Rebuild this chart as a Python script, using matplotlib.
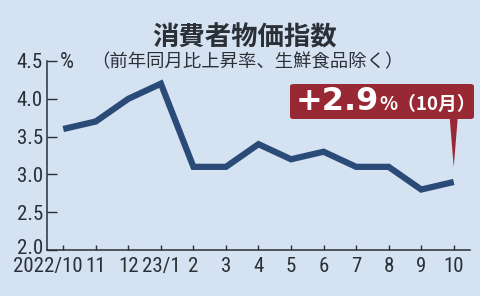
import numpy as np
import matplotlib
matplotlib.use("Agg")
import matplotlib.pyplot as plt
from matplotlib.patches import FancyBboxPatch, Polygon
from matplotlib.transforms import ScaledTranslation

months = ["2022/10", "11", "12", "23/1", "2", "3", "4", "5", "6", "7", "8", "9", "10"]
cpi = [3.6, 3.7, 4.0, 4.2, 3.1, 3.1, 3.4, 3.2, 3.3, 3.1, 3.1, 2.8, 2.9]
yticks = [2.0, 2.5, 3.0, 3.5, 4.0, 4.5]

BG = "#d5e2f2"
LINE = "#2a4b78"
RED = "#982833"
INK = "#2b2f36"
NUM_FONT = ["Roboto Condensed", "DejaVu Sans Condensed", "Liberation Sans Narrow", "Liberation Sans"]
JP_FONT = ["Noto Sans CJK JP", "DejaVu Sans"]

W, H = 481, 296
fig = plt.figure(figsize=(W / 100, H / 100), dpi=100, facecolor=BG)
# axes box in pixels: left 47, right 470, top 61, bottom 250
ax = fig.add_axes([47 / W, 1 - 250 / H, (470 - 47) / W, (250 - 61) / H])
ax.set_facecolor(BG)

x = np.arange(len(months))
ax.plot(x, cpi, color=LINE, lw=4.5, solid_joinstyle="miter", solid_capstyle="butt",
        clip_on=False, zorder=3)

ax.set_xlim(-0.5, len(months) - 0.5)
ax.set_ylim(yticks[0], yticks[-1])
ax.set_xticks(x)
ax.set_xticklabels(months)
ax.set_yticks(yticks)
ax.set_yticklabels([f"{v:.1f}" for v in yticks])

for s in ("top", "right"):
    ax.spines[s].set_visible(False)
for s in ("left", "bottom"):
    ax.spines[s].set_color(INK)
    ax.spines[s].set_linewidth(1.1)

ax.tick_params(axis="y", direction="in", length=7, width=1.0, color=INK, pad=3)
ax.tick_params(axis="x", direction="in", length=3.5, width=1.0, color=INK, pad=5)
for lab in ax.get_xticklabels() + ax.get_yticklabels():
    lab.set_family(NUM_FONT)
    lab.set_fontsize(15)
    lab.set_color(INK)
# first x label shifted left so it does not run into "11"
first = ax.get_xticklabels()[0]
first.set_transform(first.get_transform() + ScaledTranslation(-15 / 100, 0, fig.dpi_scale_trans))
# bottom y label nudged up, clear of the x labels
low = ax.get_yticklabels()[0]
low.set_transform(low.get_transform() + ScaledTranslation(0, 4 / 100, fig.dpi_scale_trans))

# title and subtitle
fig.text(245 / W, 1 - 38 / H, "消費者物価指数", family=JP_FONT, fontsize=19,
         fontweight="bold", color=INK, ha="center", va="center")
fig.text(60 / W, 1 - 62 / H, "%", family=NUM_FONT, fontsize=16, color=INK,
         ha="left", va="center")
fig.text(91 / W, 1 - 62 / H, "（前年同月比上昇率、生鮮食品除く）", family=JP_FONT,
         fontsize=13.2, color=INK, ha="left", va="center")

# callout box for latest value
bx0, bx1, by0, by1 = 290, 474, 84, 119
box = FancyBboxPatch((bx0 / W, 1 - by1 / H), (bx1 - bx0) / W, (by1 - by0) / H,
                     boxstyle="round,pad=0,rounding_size=0.008",
                     transform=fig.transFigure, facecolor=RED, edgecolor="none", zorder=5)
fig.patches.append(box)
tip = ax.transData.transform((x[-1], cpi[-1]))
tip_x, tip_y = tip[0], tip[1] + 15
ptr = Polygon([(tip_x - 4, H - by1 + 1), (tip_x + 4, H - by1 + 1), (tip_x, tip_y)],
              closed=True, transform=None, facecolor=RED, edgecolor="none", zorder=5)
fig.patches.append(ptr)

fig.text(296 / W, 1 - 101 / H, f"+{cpi[-1]:.1f}", family=["DejaVu Sans"], fontsize=23,
         fontweight="bold", color="white", ha="left", va="center", zorder=6)
fig.text(379 / W, 1 - 104 / H, "%（10月）", family=JP_FONT, fontsize=13.5,
         fontweight="bold", color="white", ha="left", va="center", zorder=6)

fig.savefig("out.png", dpi=100, facecolor=BG)
